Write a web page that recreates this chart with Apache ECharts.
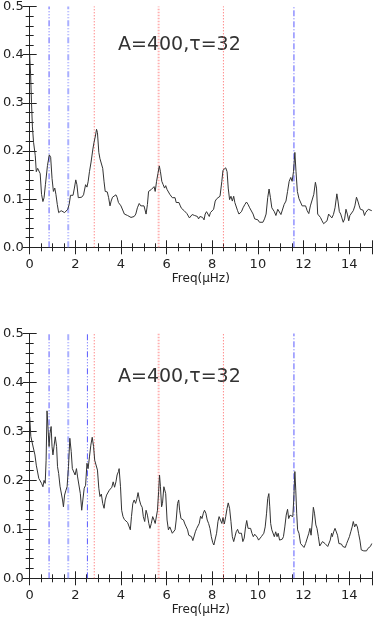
<!DOCTYPE html>
<html>
<head>
<meta charset="utf-8">
<script src="https://cdn.jsdelivr.net/npm/echarts@6/dist/echarts.min.js"></script>
<style>
html,body{margin:0;padding:0;background:#fff;}
#chart{width:375px;height:622px;}
</style>
</head>
<body>
<div id="chart"></div>
<script>
// ---------- DATA ----------
const topFreq = [0,0.04,0.08,0.12,0.17,0.245,0.29,0.35,0.40,0.46,0.52,0.58,0.63,0.69,0.78,0.86,0.92,0.98,1.04,1.10,1.15,1.21,1.27,1.33,1.38,1.44,1.53,1.61,1.67,1.73,1.79,1.84,1.90,1.96,2.02,2.07,2.13,2.19,2.28,2.36,2.45,2.51,2.56,2.62,2.69,2.77,2.82,2.88,2.93,2.97,3.03,3.08,3.14,3.20,3.26,3.31,3.40,3.46,3.52,3.57,3.63,3.69,3.78,3.83,3.89,3.95,4.0,4.08,4.15,4.22,4.29,4.36,4.44,4.51,4.58,4.65,4.72,4.80,4.87,4.94,5.01,5.10,5.16,5.21,5.27,5.33,5.39,5.45,5.50,5.56,5.62,5.68,5.73,5.79,5.85,5.91,5.96,6.02,6.08,6.14,6.19,6.25,6.31,6.37,6.42,6.48,6.54,6.60,6.65,6.71,6.77,6.83,6.89,6.94,7.0,7.06,7.12,7.17,7.23,7.29,7.35,7.40,7.46,7.52,7.58,7.64,7.69,7.75,7.81,7.87,7.92,7.98,8.06,8.13,8.20,8.27,8.34,8.42,8.47,8.53,8.59,8.65,8.70,8.76,8.82,8.88,8.94,8.99,9.05,9.11,9.17,9.22,9.28,9.35,9.43,9.50,9.57,9.64,9.71,9.79,9.86,9.93,10.0,10.07,10.15,10.22,10.29,10.36,10.43,10.49,10.55,10.61,10.66,10.72,10.79,10.87,10.94,11.01,11.08,11.15,11.23,11.30,11.37,11.44,11.50,11.56,11.62,11.67,11.73,11.80,11.87,11.94,12.02,12.09,12.16,12.23,12.30,12.38,12.45,12.52,12.57,12.62,12.68,12.74,12.81,12.88,12.96,13.03,13.10,13.17,13.24,13.31,13.38,13.46,13.51,13.57,13.63,13.68,13.74,13.80,13.86,13.92,13.98,14.03,14.11,14.18,14.25,14.32,14.38,14.44,14.49,14.55,14.61,14.67,14.72,14.78,14.84,14.90,14.99];
const topPower = [0.40,0.36,0.30,0.25,0.218,0.19,0.157,0.164,0.167,0.153,0.11,0.095,0.103,0.13,0.17,0.192,0.187,0.143,0.116,0.123,0.11,0.089,0.072,0.069,0.076,0.072,0.072,0.07,0.079,0.089,0.108,0.106,0.108,0.123,0.14,0.13,0.103,0.106,0.104,0.109,0.13,0.125,0.136,0.157,0.177,0.204,0.218,0.231,0.245,0.238,0.197,0.184,0.187,0.164,0.136,0.116,0.115,0.103,0.086,0.096,0.104,0.103,0.109,0.104,0.093,0.089,0.086,0.086,0.069,0.066,0.066,0.064,0.062,0.064,0.064,0.069,0.082,0.091,0.086,0.089,0.086,0.069,0.089,0.116,0.12,0.12,0.123,0.126,0.116,0.137,0.153,0.169,0.157,0.137,0.13,0.123,0.128,0.12,0.116,0.11,0.113,0.103,0.099,0.103,0.093,0.089,0.093,0.086,0.081,0.082,0.076,0.077,0.07,0.066,0.061,0.062,0.068,0.069,0.066,0.069,0.064,0.059,0.064,0.068,0.062,0.057,0.069,0.074,0.069,0.064,0.072,0.069,0.079,0.096,0.101,0.101,0.106,0.137,0.16,0.157,0.165,0.157,0.123,0.099,0.106,0.096,0.106,0.093,0.089,0.076,0.069,0.066,0.074,0.082,0.089,0.094,0.089,0.082,0.081,0.069,0.059,0.059,0.057,0.052,0.049,0.052,0.059,0.069,0.103,0.121,0.103,0.082,0.086,0.074,0.066,0.079,0.082,0.068,0.072,0.089,0.096,0.116,0.137,0.145,0.137,0.157,0.197,0.157,0.116,0.101,0.103,0.086,0.082,0.086,0.076,0.07,0.086,0.089,0.11,0.135,0.123,0.069,0.068,0.062,0.055,0.049,0.045,0.055,0.069,0.066,0.061,0.068,0.082,0.111,0.096,0.074,0.069,0.061,0.052,0.059,0.079,0.069,0.055,0.066,0.069,0.076,0.086,0.104,0.096,0.086,0.079,0.082,0.077,0.066,0.072,0.074,0.079,0.076,0.076];

const botFreq = [0,0.05,0.10,0.17,0.23,0.29,0.35,0.40,0.46,0.52,0.58,0.63,0.68,0.72,0.76,0.81,0.85,0.89,0.94,0.98,1.02,1.07,1.12,1.18,1.22,1.27,1.33,1.38,1.44,1.48,1.53,1.59,1.64,1.70,1.76,1.82,1.87,1.93,1.99,2.05,2.10,2.16,2.22,2.28,2.33,2.39,2.45,2.51,2.56,2.62,2.68,2.74,2.80,2.85,2.91,2.97,3.03,3.08,3.14,3.20,3.26,3.31,3.37,3.43,3.49,3.54,3.60,3.66,3.72,3.78,3.83,3.89,3.92,3.98,4.03,4.09,4.15,4.22,4.29,4.36,4.41,4.46,4.52,4.58,4.64,4.70,4.75,4.81,4.87,4.93,4.98,5.04,5.10,5.16,5.22,5.27,5.33,5.39,5.45,5.50,5.56,5.60,5.65,5.69,5.73,5.78,5.82,5.88,5.92,5.96,6.02,6.08,6.14,6.19,6.25,6.31,6.37,6.42,6.48,6.53,6.57,6.63,6.68,6.74,6.80,6.86,6.92,6.97,7.03,7.09,7.15,7.20,7.26,7.32,7.38,7.43,7.49,7.55,7.61,7.66,7.72,7.78,7.84,7.90,7.96,8.02,8.07,8.13,8.19,8.25,8.30,8.36,8.42,8.47,8.53,8.59,8.65,8.70,8.76,8.82,8.88,8.94,8.99,9.05,9.11,9.17,9.22,9.28,9.34,9.40,9.46,9.51,9.57,9.63,9.68,9.74,9.80,9.86,9.91,9.97,10.03,10.09,10.15,10.20,10.26,10.32,10.38,10.43,10.48,10.52,10.56,10.61,10.66,10.72,10.78,10.84,10.89,10.95,11.01,11.07,11.12,11.18,11.24,11.30,11.35,11.41,11.47,11.53,11.57,11.62,11.66,11.70,11.74,11.80,11.87,11.94,12.02,12.09,12.16,12.23,12.28,12.33,12.39,12.43,12.48,12.54,12.59,12.65,12.71,12.77,12.83,12.88,12.94,13.00,13.06,13.11,13.17,13.23,13.26,13.32,13.38,13.43,13.49,13.55,13.60,13.66,13.72,13.78,13.83,13.89,13.95,14.01,14.07,14.13,14.18,14.24,14.30,14.36,14.41,14.47,14.53,14.59,14.64,14.70,14.76,14.82,14.87,14.93,14.99];
const botPower = [0.33,0.29,0.279,0.276,0.252,0.231,0.227,0.204,0.20,0.194,0.187,0.20,0.194,0.241,0.342,0.34,0.269,0.296,0.31,0.269,0.252,0.255,0.289,0.269,0.228,0.214,0.188,0.186,0.16,0.146,0.17,0.18,0.187,0.228,0.286,0.259,0.224,0.221,0.211,0.224,0.207,0.211,0.173,0.139,0.16,0.184,0.19,0.235,0.224,0.248,0.272,0.288,0.269,0.241,0.245,0.221,0.184,0.167,0.172,0.153,0.143,0.16,0.17,0.167,0.18,0.184,0.186,0.197,0.186,0.197,0.211,0.218,0.224,0.187,0.139,0.126,0.12,0.116,0.114,0.111,0.099,0.126,0.153,0.16,0.153,0.163,0.175,0.16,0.15,0.145,0.126,0.116,0.139,0.129,0.112,0.102,0.112,0.126,0.119,0.112,0.116,0.139,0.177,0.211,0.187,0.146,0.153,0.187,0.19,0.173,0.119,0.099,0.105,0.102,0.092,0.088,0.099,0.119,0.153,0.16,0.139,0.122,0.126,0.119,0.111,0.105,0.099,0.088,0.092,0.085,0.077,0.078,0.095,0.102,0.104,0.112,0.127,0.122,0.133,0.139,0.133,0.119,0.112,0.102,0.085,0.073,0.068,0.071,0.092,0.116,0.126,0.119,0.112,0.124,0.111,0.126,0.143,0.154,0.143,0.116,0.085,0.075,0.078,0.095,0.1,0.092,0.095,0.092,0.075,0.082,0.105,0.118,0.102,0.099,0.102,0.092,0.085,0.09,0.086,0.084,0.078,0.075,0.085,0.088,0.092,0.105,0.133,0.163,0.173,0.146,0.112,0.099,0.1,0.085,0.095,0.085,0.092,0.078,0.077,0.08,0.085,0.105,0.129,0.141,0.122,0.129,0.133,0.126,0.16,0.218,0.18,0.133,0.099,0.092,0.071,0.068,0.063,0.071,0.075,0.092,0.102,0.088,0.119,0.145,0.133,0.109,0.102,0.085,0.066,0.068,0.075,0.077,0.071,0.07,0.065,0.061,0.078,0.092,0.085,0.095,0.102,0.104,0.088,0.071,0.068,0.07,0.065,0.061,0.063,0.071,0.078,0.085,0.095,0.105,0.116,0.105,0.111,0.105,0.092,0.078,0.058,0.059,0.056,0.059,0.056,0.061,0.058,0.065,0.071];

// vertical marker lines (frequency positions)
const topBlueDDD = [0.85];
const topLightBlue = [1.69];
const topRedDot = [2.83, 8.49];
const topPinkDot = [5.65];
const topBlueDD = [11.58];
const botBlueDDD = [0.85, 2.53];
const botLightBlue = [1.69];
const botRedDot = [2.83, 8.49];
const botPinkDot = [5.65];
const botBlueDD = [11.58];
const yRange = [0, 0.5];

const xTicks = [0, 2, 4, 6, 8, 10, 12, 14];
const yTicks = [0.0, 0.1, 0.2, 0.3, 0.4, 0.5];
const panelLabel = 'A=400,\u03c4=32';
const xName = 'Freq(\u03bcHz)';

// ---------- STYLES ----------
const AX = '#222';
const FONT = 'DejaVu Sans';
function styleOf(kind) {
  switch (kind) {
    case 'blueDDD': return { color: '#5a5aff', width: 1, type: [6, 2, 1, 2, 1, 2, 1, 2] };
    case 'lightBlue': return { color: '#aab0ff', width: 2, type: [6, 2, 1, 2, 1, 2, 1, 2] };
    case 'redDot': return { color: '#ff5a5a', width: 1, type: [1, 2] };
    case 'pinkDot': return { color: '#ffb0b0', width: 2, type: [1.5, 1.5] };
    default: return { color: '#5a5aff', width: 1, type: [6, 2, 1, 2] };
  }
}

const grids = [
  { left: 26.7, right: 2, top: 1, height: 246.3 },
  { left: 26.7, right: 2, top: 333.5, height: 244.8 }
];

const xAxes = [], yAxes = [];
grids.forEach((g, i) => {
  xAxes.push({
    type: 'value', gridIndex: i, position: 'bottom', min: 0, max: 15, interval: 2,
    name: xName, nameLocation: 'middle', nameGap: 26,
    nameTextStyle: { fontFamily: FONT, fontSize: 12, color: AX },
    axisLine: { show: true, lineStyle: { color: AX, width: 1 } },
    axisTick: { show: true, inside: true, length: 7, lineStyle: { color: AX } },
    minorTick: { show: true, splitNumber: 4, length: 4, lineStyle: { color: AX } },
    splitLine: { show: false },
    axisLabel: { fontFamily: FONT, fontSize: 13, color: AX, margin: 11,
      formatter: v => (xTicks.indexOf(v) >= 0 ? String(v) : '') }
  });
  xAxes.push({
    type: 'value', gridIndex: i, position: 'top', min: 0, max: 15, interval: 2,
    axisLine: { show: true, lineStyle: { color: AX, width: 1 } },
    axisTick: { show: true, inside: true, length: 7, lineStyle: { color: AX } },
    minorTick: { show: true, splitNumber: 4, length: 4, lineStyle: { color: AX } },
    splitLine: { show: false }, axisLabel: { show: false }
  });
  yAxes.push({
    type: 'value', gridIndex: i, position: 'left', min: 0, max: 0.5, interval: 0.1,
    axisLine: { show: true, lineStyle: { color: AX, width: 1 } },
    axisTick: { show: true, inside: true, length: 7, lineStyle: { color: AX } },
    minorTick: { show: true, splitNumber: 5, length: 4, lineStyle: { color: AX } },
    splitLine: { show: false },
    axisLabel: { fontFamily: FONT, fontSize: 13, color: AX, margin: 6,
      formatter: v => (yTicks.some(t => Math.abs(t - v) < 1e-9) ? v.toFixed(1) : '') }
  });
  yAxes.push({
    type: 'value', gridIndex: i, position: 'right', min: 0, max: 0.5, interval: 0.1,
    axisLine: { show: true, lineStyle: { color: AX, width: 1 } },
    axisTick: { show: true, inside: true, length: 7, lineStyle: { color: AX } },
    minorTick: { show: true, splitNumber: 5, length: 4, lineStyle: { color: AX } },
    splitLine: { show: false }, axisLabel: { show: false }
  });
});

function zip(a, b) { return a.map((x, k) => [x, b[k]]); }

const series = [];
function addVLines(arr, kind, xi, yi) {
  arr.forEach(v => {
    series.push({
      type: 'line', xAxisIndex: xi, yAxisIndex: yi,
      data: [[v, yRange[0]], [v, yRange[1]]],
      showSymbol: false, symbol: 'none', silent: true, animation: false,
      lineStyle: styleOf(kind), z: 2
    });
  });
}
[[topBlueDDD, 'blueDDD'], [topLightBlue, 'lightBlue'], [topRedDot, 'redDot'], [topPinkDot, 'pinkDot'], [topBlueDD, 'blueDD']]
  .forEach(([a, k]) => addVLines(a, k, 0, 0));
[[botBlueDDD, 'blueDDD'], [botLightBlue, 'lightBlue'], [botRedDot, 'redDot'], [botPinkDot, 'pinkDot'], [botBlueDD, 'blueDD']]
  .forEach(([a, k]) => addVLines(a, k, 2, 2));

series.push({
  type: 'line', xAxisIndex: 0, yAxisIndex: 0, data: zip(topFreq, topPower),
  showSymbol: false, symbol: 'none', lineStyle: { color: '#333', width: 1 }, silent: true, animation: false, z: 3
});
series.push({
  type: 'line', xAxisIndex: 2, yAxisIndex: 2, data: zip(botFreq, botPower),
  showSymbol: false, symbol: 'none', lineStyle: { color: '#333', width: 1 }, silent: true, animation: false, z: 3
});

const chart = echarts.init(document.getElementById('chart'), null, { renderer: 'canvas' });
chart.setOption({
  animation: false,
  backgroundColor: '#fff',
  grid: grids,
  xAxis: xAxes,
  yAxis: yAxes,
  series: series,
  graphic: [
    { type: 'text', left: 118, top: 36, style: { text: panelLabel, fontFamily: FONT, fontSize: 19, fill: '#333' } },
    { type: 'text', left: 118, top: 368, style: { text: panelLabel, fontFamily: FONT, fontSize: 19, fill: '#333' } }
  ]
});
</script>
</body>
</html>
